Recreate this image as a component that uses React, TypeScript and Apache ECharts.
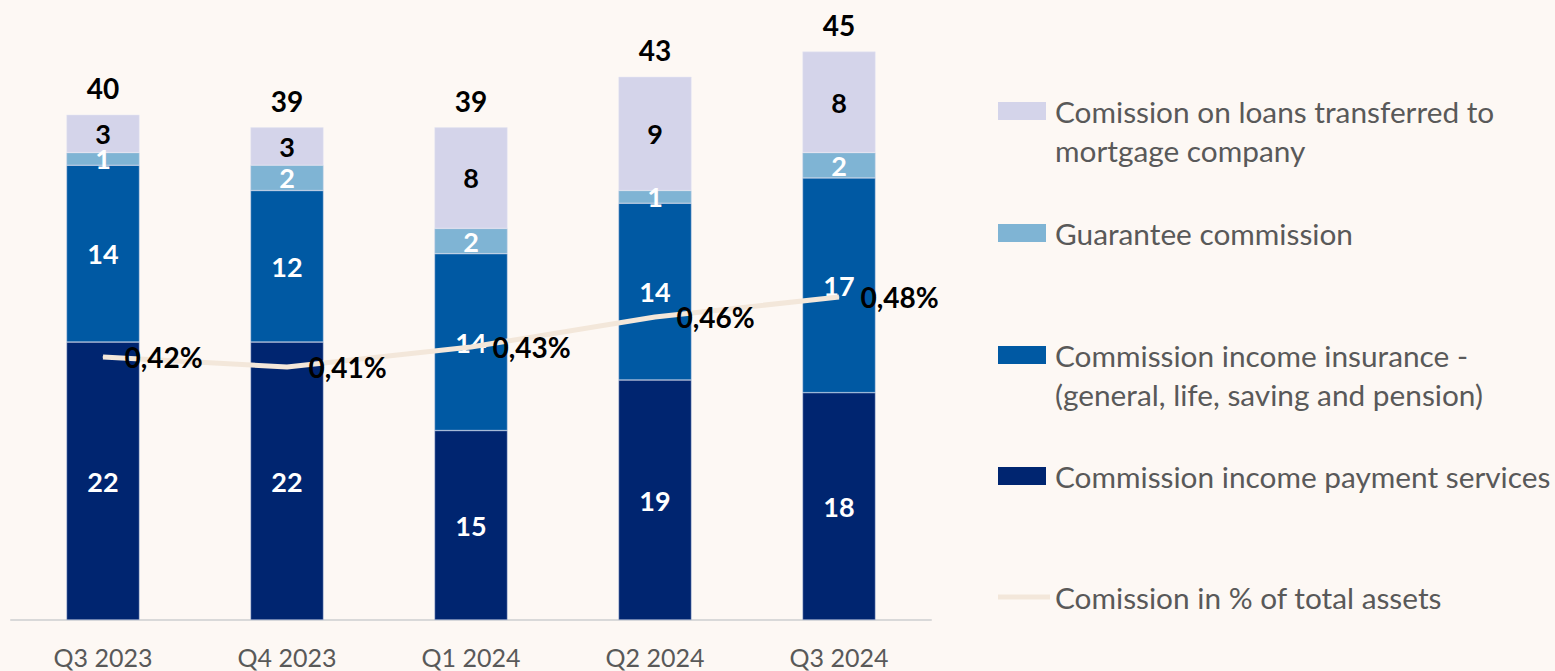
import React, { useEffect, useRef } from "react";
import * as echarts from "echarts";

const categories = ["Q3 2023", "Q4 2023", "Q1 2024", "Q2 2024", "Q3 2024"];
const paymentServices = [22, 22, 15, 19, 18];
const insurance = [14, 12, 14, 14, 17];
const guarantee = [1, 2, 2, 1, 2];
const mortgageLoans = [3, 3, 8, 9, 8];
const pctOfAssets = [0.42, 0.41, 0.43, 0.46, 0.48];

const names = {
  mortgage: "Comission on loans transferred to\nmortgage company",
  guarantee: "Guarantee commission",
  insurance: "Commission income insurance -\n(general, life, saving and pension)",
  payment: "Commission income payment services",
  pct: "Comission in % of total assets",
};

const FONT = "Lato, 'Open Sans', sans-serif";

export default function App() {
  const ref = useRef<HTMLDivElement>(null);
  useEffect(() => {
    if (!ref.current) return;
    const chart = echarts.init(ref.current, null, { renderer: "svg" });
    const totals = categories.map(
      (_, i) => paymentServices[i] + insurance[i] + guarantee[i] + mortgageLoans[i]
    );
    const segLabel = (color: string) => ({
      show: true,
      position: "inside",
      color,
      fontFamily: FONT,
      fontWeight: "bold",
      fontSize: 27,
    });
    const barBase = {
      type: "bar",
      stack: "total",
      barWidth: 73,
      yAxisIndex: 0,
    };
    const singleIcon = "path://M0,0H48V18H0Z";
    const doubleIcon = "path://M0,0H48V18H0ZM0,57L0.01,57L0,57Z";
    const legendBase = {
      left: 993,
      itemWidth: 48,
      itemHeight: 18,
      itemGap: 0,
      selectedMode: false,
      itemStyle: { borderWidth: 0 },
      textStyle: {
        color: "#595959",
        fontFamily: FONT,
        fontSize: 29.8,
        lineHeight: 39,
        padding: [0, 0, 0, 4],
      },
    };
    chart.setOption({
      animation: false,
      backgroundColor: "#FDF8F4",
      grid: { left: 11, right: 624, top: 20, bottom: 51 },
      xAxis: {
        type: "category",
        data: categories,
        axisLine: { lineStyle: { color: "#D9D9D9", width: 2 } },
        axisTick: { show: false },
        axisLabel: {
          color: "#595959",
          fontFamily: FONT,
          fontSize: 25,
          margin: 24,
        },
      },
      yAxis: [
        { type: "value", min: 0, max: 47.5, show: false, splitLine: { show: false } },
        { type: "value", min: 0.157, max: 0.757, show: false, splitLine: { show: false } },
      ],
      legend: [
        { ...legendBase, top: 86.5, itemHeight: 57, data: [{ name: names.mortgage, icon: doubleIcon }] },
        { ...legendBase, top: 208.5, data: [{ name: names.guarantee, icon: singleIcon }] },
        { ...legendBase, top: 330.5, itemHeight: 57, data: [{ name: names.insurance, icon: doubleIcon }] },
        { ...legendBase, top: 451.5, data: [{ name: names.payment, icon: singleIcon }] },
        {
          ...legendBase,
          top: 572.5,
          itemWidth: 52,
          itemHeight: 5,
          data: [{ name: names.pct, icon: "path://M0,0H52V5H0Z" }],
          textStyle: { ...legendBase.textStyle, padding: [0, 0, 0, 0] },
        },
      ],
      series: [
        {
          ...barBase,
          name: names.payment,
          data: paymentServices,
          itemStyle: { color: "#002570", borderColor: "#C9D3E8", borderWidth: 0.5 },
          label: segLabel("#FFFFFF"),
        },
        {
          ...barBase,
          name: names.insurance,
          data: insurance,
          itemStyle: { color: "#0059A3", borderColor: "#C9D3E8", borderWidth: 0.5 },
          label: segLabel("#FFFFFF"),
        },
        {
          ...barBase,
          name: names.guarantee,
          data: guarantee,
          itemStyle: { color: "#7FB4D4", borderColor: "#C9D3E8", borderWidth: 0.5 },
          label: segLabel("#FFFFFF"),
        },
        {
          ...barBase,
          name: names.mortgage,
          data: mortgageLoans,
          itemStyle: { color: "#D4D4EA", borderColor: "#E6E6F2", borderWidth: 0.5 },
          label: segLabel("#000000"),
        },
        {
          name: "Total",
          type: "line",
          yAxisIndex: 0,
          data: totals,
          symbol: "circle",
          symbolSize: 1,
          itemStyle: { color: "rgba(0,0,0,0)" },
          lineStyle: { opacity: 0 },
          silent: true,
          label: {
            show: true,
            position: "top",
            distance: 12,
            color: "#000000",
            fontFamily: FONT,
            fontWeight: "bold",
            fontSize: 28,
          },
        },
        {
          name: names.pct,
          type: "line",
          yAxisIndex: 1,
          data: pctOfAssets,
          symbol: "circle",
          symbolSize: 1,
          lineStyle: { color: "#F3E7DA", width: 5 },
          itemStyle: { color: "#F3E7DA" },
          z: 5,
          label: {
            show: true,
            position: "right",
            distance: 21,
            color: "#000000",
            fontFamily: FONT,
            fontWeight: "bold",
            fontSize: 28,
            formatter: (p: any) => p.value.toFixed(2).replace(".", ",") + "%",
          },
        },
      ],
    });
    return () => chart.dispose();
  }, []);
  return (
    <div
      ref={ref}
      style={{ position: "fixed", left: 0, top: 0, width: 1555, height: 671 }}
    />
  );
}
